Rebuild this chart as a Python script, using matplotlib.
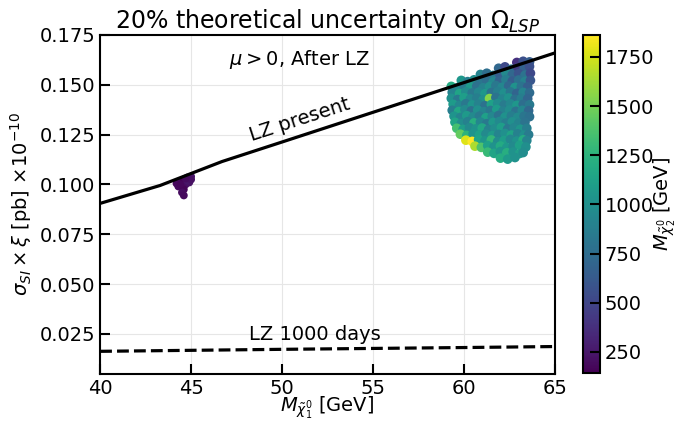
import matplotlib
matplotlib.use("Agg")
import matplotlib.pyplot as plt

# LZ limit curves
lz_present_x = [40.0, 43.3, 46.7, 50.0, 55.0, 60.0, 65.0]
lz_present_y = [0.0905, 0.0995, 0.1115, 0.1213, 0.1362, 0.1511, 0.1660]
lz_1000_x = [40.0, 50.0, 60.0, 65.0]
lz_1000_y = [0.0163, 0.0173, 0.0182, 0.0187]

# low mass cluster (purple)
low_x = [44.2, 44.4, 44.6, 44.8, 45.0, 44.3, 44.5, 44.7, 44.9, 44.6, 44.5, 44.6, 44.8, 44.4, 45.0, 44.7]
low_y = [0.1005, 0.1015, 0.1025, 0.1035, 0.1040, 0.0990, 0.0995, 0.1000, 0.1010, 0.0975, 0.0960, 0.0945, 0.1020, 0.1000, 0.1025, 0.1030]
low_m = [180, 200, 143, 220, 250, 190, 170, 210, 230, 160, 200, 185, 240, 175, 215, 195]

# high mass cloud
cloud_x = [
    62.9, 63.25, 63.6,
    61.9, 62.25, 62.6, 62.95, 63.3, 63.6,
    60.9, 61.25, 61.6, 61.95, 62.3, 62.65, 63.0, 63.35, 63.65,
    59.85, 60.2, 60.55, 60.9, 61.25, 61.6, 61.95, 62.3, 62.65, 63.0, 63.35, 63.65,
    59.3, 59.65, 60.0, 60.35, 60.7, 61.05, 61.4, 61.75, 62.1, 62.45, 62.8, 63.15, 63.5,
    59.35, 59.75, 60.1, 60.45, 60.8, 61.15, 61.5, 61.85, 62.2, 62.55, 62.9, 63.25, 63.6,
    59.3, 59.65, 60.0, 60.35, 60.7, 61.05, 61.4, 61.75, 62.1, 62.45, 62.8, 63.15, 63.5,
    59.4, 59.75, 60.1, 60.45, 60.8, 61.15, 61.5, 61.85, 62.2, 62.55, 62.9, 63.25, 63.6,
    59.35, 59.7, 60.05, 60.4, 60.75, 61.1, 61.45, 61.8, 62.15, 62.5, 62.85, 63.2, 63.55,
    59.45, 59.8, 60.15, 60.5, 60.85, 61.2, 61.55, 61.9, 62.25, 62.6, 62.95, 63.3, 63.6,
    59.5, 59.85, 60.2, 60.55, 60.9, 61.25, 61.6, 61.95, 62.3, 62.65, 63.0, 63.35,
    59.6, 59.95, 60.3, 60.65, 61.0, 61.35, 61.7, 62.05, 62.4, 62.75, 63.1, 63.45,
    59.8, 60.15, 60.5, 60.85, 61.2, 61.55, 61.9, 62.25, 62.6, 62.95, 63.3, 63.55,
    60.1, 60.45, 60.8, 61.15, 61.5, 61.85, 62.2, 62.55, 62.9, 63.25, 63.45,
    60.6, 60.95, 61.3, 61.65, 62.0, 62.35, 62.7, 63.05, 63.4,
    61.3, 61.65, 62.0, 62.35, 62.7, 63.05, 63.25,
    62.0, 62.4, 62.8,
]
cloud_y = [
    0.1612, 0.1618, 0.1615,
    0.1583, 0.1590, 0.1578, 0.1588, 0.1582, 0.1592,
    0.1552, 0.1558, 0.1547, 0.1555, 0.1560, 0.1550, 0.1556, 0.1548, 0.1558,
    0.1522, 0.1516, 0.1525, 0.1519, 0.1523, 0.1515, 0.1521, 0.1526, 0.1518, 0.1524, 0.1517, 0.1522,
    0.1492, 0.1486, 0.1495, 0.1489, 0.1493, 0.1485, 0.1491, 0.1496, 0.1488, 0.1494, 0.1487, 0.1492, 0.1490,
    0.1462, 0.1456, 0.1465, 0.1459, 0.1463, 0.1455, 0.1461, 0.1466, 0.1458, 0.1464, 0.1457, 0.1462, 0.1460,
    0.1432, 0.1426, 0.1435, 0.1429, 0.1433, 0.1425, 0.1431, 0.1436, 0.1428, 0.1434, 0.1427, 0.1432, 0.1430,
    0.1402, 0.1396, 0.1405, 0.1399, 0.1403, 0.1395, 0.1401, 0.1406, 0.1398, 0.1404, 0.1397, 0.1402, 0.1400,
    0.1372, 0.1366, 0.1375, 0.1369, 0.1373, 0.1365, 0.1371, 0.1376, 0.1368, 0.1374, 0.1367, 0.1372, 0.1370,
    0.1342, 0.1336, 0.1345, 0.1339, 0.1343, 0.1335, 0.1341, 0.1346, 0.1338, 0.1344, 0.1337, 0.1342, 0.1340,
    0.1312, 0.1306, 0.1315, 0.1309, 0.1313, 0.1305, 0.1311, 0.1316, 0.1308, 0.1314, 0.1307, 0.1312,
    0.1282, 0.1276, 0.1285, 0.1279, 0.1283, 0.1275, 0.1281, 0.1286, 0.1278, 0.1284, 0.1277, 0.1282,
    0.1252, 0.1246, 0.1255, 0.1249, 0.1253, 0.1245, 0.1251, 0.1256, 0.1248, 0.1254, 0.1247, 0.1250,
    0.1222, 0.1216, 0.1225, 0.1219, 0.1223, 0.1215, 0.1221, 0.1226, 0.1218, 0.1224, 0.1220,
    0.1192, 0.1186, 0.1195, 0.1189, 0.1193, 0.1185, 0.1191, 0.1196, 0.1188,
    0.1162, 0.1156, 0.1165, 0.1159, 0.1163, 0.1155, 0.1160,
    0.1132, 0.1127, 0.1135,
]
cloud_m = [
    380, 560, 640,
    720, 520, 800, 450, 680, 560,
    900, 760, 850, 640, 960, 720, 580, 800, 520,
    1050, 880, 980, 820, 760, 940, 680, 870, 640, 780, 900, 600,
    1200, 960, 860, 1080, 780, 900, 1000, 830, 930, 720, 1020, 800, 660,
    900, 1150, 980, 830, 940, 1050, 790, 880, 990, 820, 690, 920, 740,
    1000, 840, 1100, 950, 870, 990, 1550, 800, 920, 1020, 770, 870, 700,
    1080, 930, 830, 1030, 900, 790, 1120, 970, 850, 940, 1050, 760, 840,
    870, 1160, 960, 780, 1000, 920, 830, 1080, 890, 980, 800, 930, 720,
    1030, 920, 1070, 960, 850, 1120, 940, 800, 1020, 870, 960, 820, 770,
    1150, 980, 890, 1220, 930, 840, 1060, 950, 870, 1000, 910, 800,
    1350, 1100, 960, 1020, 1170, 900, 980, 1100, 830, 930, 1040, 870,
    1450, 1250, 1030, 1120, 960, 1070, 920, 1000, 1140, 890, 990, 850,
    1780, 1862, 1150, 1040, 1280, 970, 1090, 940, 1020, 1200, 920,
    1650, 1380, 1120, 1010, 1190, 1060, 960, 1110, 990,
    1300, 1150, 1040, 1220, 1010, 1100, 980,
    1200, 1070, 1020,
]

plt.rcParams["font.size"] = 14

fig = plt.figure(figsize=(6.81, 4.21), dpi=100)
ax = fig.add_axes([0.147, 0.112, 0.668, 0.805])
cax = fig.add_axes([0.856, 0.114, 0.025, 0.803])

vmin = min(low_m + cloud_m)
vmax = max(low_m + cloud_m)
ax.scatter(low_x, low_y, c=low_m, cmap="viridis", vmin=vmin, vmax=vmax, s=32, edgecolors="none")
sc = ax.scatter(cloud_x, cloud_y, c=cloud_m, cmap="viridis", vmin=vmin, vmax=vmax, s=48, edgecolors="none")

ax.plot(lz_present_x, lz_present_y, color="black", lw=2.3)
ax.plot(lz_1000_x, lz_1000_y, color="black", lw=2.3, ls="--")

ax.text(47.1, 0.1625, r"$\mu>0$, After LZ", fontsize=14, va="center")
ax.text(51.0, 0.1325, "LZ present", fontsize=14, rotation=18, ha="center", va="center")
ax.text(51.8, 0.0245, "LZ 1000 days", fontsize=14, ha="center", va="center")

ax.set_xlim(40, 65)
ax.set_ylim(0.005, 0.175)
ax.set_yticks([0.025, 0.05, 0.075, 0.1, 0.125, 0.15, 0.175])
ax.grid(True, color="#e6e6e6", lw=0.8)
ax.set_axisbelow(True)
ax.tick_params(direction="in", length=7, width=1.5, labelsize=14)
for sp in ax.spines.values():
    sp.set_linewidth(1.5)

ax.set_title(r"20% theoretical uncertainty on $\Omega_{LSP}$", fontsize=17, pad=4)
ax.set_xlabel(r"$M_{\tilde{\chi}_1^0}$ [GeV]", fontsize=14, labelpad=-2)
ax.set_ylabel(r"$\sigma_{SI}\times\xi$ [pb] $\times 10^{-10}$", fontsize=14)

cb = fig.colorbar(sc, cax=cax)
cb.set_ticks([250, 500, 750, 1000, 1250, 1500, 1750])
cb.ax.tick_params(direction="in", length=7, width=1.5, labelsize=14)
cb.outline.set_linewidth(1.5)
cb.set_label(r"$M_{\tilde{\chi}_2^0}$ [GeV]", fontsize=14, labelpad=-2)

fig.savefig("out.png", dpi=100)
